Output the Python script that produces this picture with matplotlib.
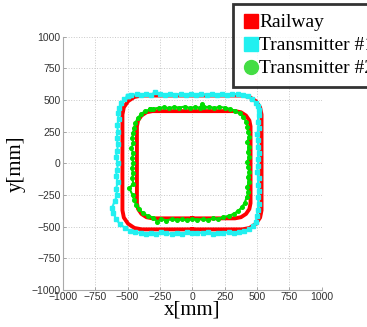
import matplotlib
matplotlib.use("Agg")
import matplotlib.pyplot as plt
from matplotlib.lines import Line2D
import numpy as np

# railway: outer and inner loops (mm)
rail_outer_x = [0, 385, 442, 491, 524, 535, 535, 524, 491, 442, 385, -390, -447, -496, -529, -540,
                -540, -529, -496, -447, -390, 0]
rail_outer_y = [-522, -522, -511, -478, -429, -372, 385, 442, 491, 524, 535, 535, 524, 491, 442, 385,
                -372, -429, -478, -511, -522, -522]
rail_inner_x = [0, 330, 376, 415, 441, 450, 450, 441, 415, 376, 330, -308, -354, -393, -419, -428,
                -428, -419, -393, -354, -308, 0]
rail_inner_y = [-435, -435, -426, -400, -361, -315, 292, 338, 377, 403, 412, 412, 403, 377, 338, 292,
                -315, -361, -400, -426, -435, -435]

# transmitter #1 estimated positions (mm)
tx1_x = [-500, -470, -430, -400, -360, -320, -290, -250, -210, -170, -130, -90, -50, -10, 30, 70,
         110, 150, 190, 230, 270, 310, 350, 390,
         430, 465, 490, 505, 515,
         512, 505, 515, 500, 510, 505, 515, 505, 510, 500, 512, 505, 515, 505, 512, 505, 500,
         490, 470, 440, 400,
         360, 320, 280, 240, 200, 160, 120, 80, 40, 0, -40, -80, -120, -160, -200, -240, -280,
         -320, -360, -400, -440, -480,
         -520, -560, -590, -610, -620,
         -600, -580, -590, -575, -590, -580, -575, -590, -580, -575, -585, -575, -580, -570, -575,
         -565, -550, -530, -500]
tx1_y = [530, 540, 545, 538, 548, 542, 560, 545, 540, 548, 542, 545, 540, 548, 542, 545,
         540, 548, 542, 545, 540, 548, 545, 540,
         530, 510, 480, 450, 420,
         380, 330, 280, 230, 180, 130, 80, 30, -20, -70, -120, -170, -220, -270, -320, -370, -420,
         -460, -495, -520, -535,
         -540, -548, -545, -552, -548, -555, -545, -550, -548, -552, -545, -555, -548, -560, -550,
         -545, -555, -548, -560, -550, -545, -535,
         -510, -480, -440, -390, -350,
         -300, -250, -200, -150, -100, -50, 0, 50, 100, 150, 200, 250, 300, 350, 400,
         440, 475, 505, 530]

# transmitter #2 estimated positions (mm)
tx2_x = [-330, -300, -260, -220, -180, -140, -100, -60, -20, 20, 60, 75, 90, 130, 170, 210, 250, 290,
         330, 365, 395, 415, 425,
         430, 440, 425, 435, 428, 438, 425, 432, 440, 428, 435, 425, 432, 420,
         405, 385, 355, 320, 280,
         240, 200, 160, 120, 80, 40, 0, -40, -80, -120, -160, -200, -240, -270, -300,
         -340, -380, -410, -435, -450,
         -462, -487, -455, -465, -458, -468, -455, -465, -458, -470, -455, -465, -458, -450,
         -440, -420, -395, -365, -330]
tx2_y = [425, 432, 438, 442, 436, 445, 440, 448, 438, 444, 440, 470, 442, 446, 438, 445, 440, 430,
         415, 395, 365, 330, 290,
         250, 210, 170, 130, 90, 50, 10, -30, -70, -110, -150, -190, -230, -270,
         -310, -345, -375, -400, -415,
         -425, -440, -435, -448, -440, -445, -438, -450, -442, -447, -440, -452, -438, -460, -430,
         -415, -395, -365, -330, -290,
         -250, -197, -160, -120, -80, -40, 0, 40, 80, 120, 160, 200, 240, 280,
         320, 360, 390, 412, 425]

labels = ["Railway", "Transmitter #1", "Transmitter #2"]

fig = plt.figure(figsize=(3.67, 3.27), dpi=100)
ax = fig.add_axes([0.1714, 0.1135, 0.7052, 0.7743])

ax.plot(rail_outer_x, rail_outer_y, color="#ff0000", lw=2.8, solid_joinstyle="round", zorder=2)
ax.plot(rail_inner_x, rail_inner_y, color="#ff0000", lw=2.8, solid_joinstyle="round", zorder=2)
ax.plot(tx1_x + tx1_x[:1], tx1_y + tx1_y[:1], color="#22f0f0", lw=1.5, marker="s", markersize=2.6,
        zorder=3)
ax.plot(tx2_x + tx2_x[:1], tx2_y + tx2_y[:1], color="#00dd00", lw=1.5, marker="o", markersize=2.6,
        zorder=4)

ax.set_xlim(-1000, 1000)
ax.set_ylim(-1000, 1000)
ticks = [-1000, -750, -500, -250, 0, 250, 500, 750, 1000]
ax.set_xticks(ticks)
ax.set_yticks(ticks)
ax.tick_params(direction="in", length=2.5, width=0.6, color="#999999", labelsize=7.5,
               labelcolor="#333333", pad=1.5)
for lab in ax.get_xticklabels() + ax.get_yticklabels():
    lab.set_family("Liberation Sans")
ax.grid(True, linestyle=":", color="#c8c8c8", lw=0.7)
for s in ["top", "right"]:
    ax.spines[s].set_visible(False)
for s in ["left", "bottom"]:
    ax.spines[s].set_color("#aaaaaa")
    ax.spines[s].set_linewidth(0.8)

ax.set_xlabel("x[mm]", family="Liberation Serif", fontsize=15, labelpad=-1)
ax.set_ylabel("y[mm]", family="Liberation Serif", fontsize=15, labelpad=4)

handles = [
    Line2D([], [], ls="", marker="s", color="#ff0000", markersize=10),
    Line2D([], [], ls="", marker="s", color="#22f0f0", markersize=10),
    Line2D([], [], ls="", marker="o", color="#44dd44", markersize=10),
]
leg = fig.legend(handles, labels, loc="upper left", bbox_to_anchor=(233 / 367, 1 - 4 / 327),
                 prop={"family": "Liberation Serif", "size": 14}, frameon=True, fancybox=False,
                 handlelength=0.8, handletextpad=0.05, borderpad=0.5, labelspacing=0.28,
                 borderaxespad=0)
leg.get_frame().set_edgecolor("black")
leg.get_frame().set_linewidth(2)

fig.savefig("out.png", dpi=100)
